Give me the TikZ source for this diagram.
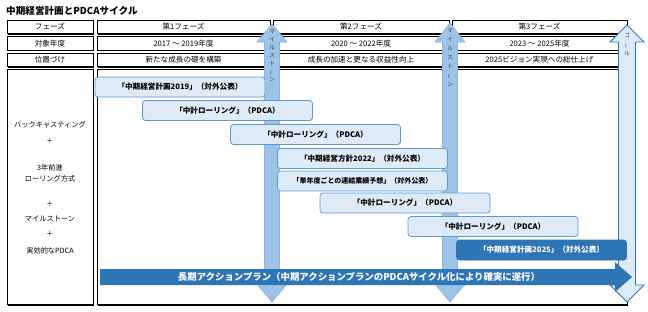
\documentclass[tikz,border=0pt]{standalone}
\usepackage{fontspec}
\usepackage{graphicx}
\setmainfont{Noto Sans CJK JP}
\usetikzlibrary{shadows}
\definecolor{msfill}{HTML}{9DC3E6}
\definecolor{msdraw}{HTML}{8AB3DD}
\definecolor{lightfill}{HTML}{DEEBF7}
\definecolor{boxdraw}{HTML}{5B9BD5}
\definecolor{darkblue}{HTML}{2E75B6}
\newcommand{\vbar}{\rotatebox[origin=c]{90}{ー}}
\begin{document}
\begin{tikzpicture}[x=1pt,y=-1pt,
  cell/.style={draw=black, line width=0.8pt, fill=white, inner sep=0pt,
    font=\fontsize{7.6}{9}\selectfont,
    drop shadow={shadow xshift=1.3pt, shadow yshift=-1.3pt, fill=black, opacity=1}},
  lefttxt/.style={font=\fontsize{7.2}{8}\selectfont, inner sep=0pt},
  rbox/.style={draw=boxdraw, fill=lightfill, rounded corners=3pt, line width=0.8pt,
    minimum width=170pt, minimum height=20pt, inner sep=0pt,
    font=\bfseries\fontsize{7.6}{8}\selectfont},
  dbox/.style={rbox, draw=darkblue, fill=darkblue, text=white},
  ms/.style={fill=msfill, draw=msdraw, line width=0.6pt},
  goal/.style={fill=lightfill, draw=darkblue, line width=0.8pt},
  vtext/.style={align=center, inner sep=0pt, text=black!80}
]
\useasboundingbox (0,0) rectangle (648,311);
\fill[white] (0,0) rectangle (648,311);

% title
\node[anchor=west, inner sep=0pt, font=\bfseries\fontsize{9.6}{11}\selectfont] (title) at (6,11) {中期経営計画とPDCAサイクル};

% table left column
\node[cell, minimum width=86pt, minimum height=13.5pt] (l1) at (50,26.75) {フェーズ};
\node[cell, minimum width=86pt, minimum height=13.5pt] (l2) at (50,43.25) {対象年度};
\node[cell, minimum width=86pt, minimum height=13.5pt] (l3) at (50,59.75) {位置づけ};
\node[cell, minimum width=86pt, minimum height=235pt] (l4) at (50,187) {};

% table right cells
\node[cell, minimum width=173pt, minimum height=13.5pt] (p1) at (183.5,26.75) {第1フェーズ};
\node[cell, minimum width=176pt, minimum height=13.5pt] (p2) at (361,26.75) {第2フェーズ};
\node[cell, minimum width=175pt, minimum height=13.5pt] (p3) at (539.5,26.75) {第3フェーズ};
\node[cell, minimum width=530pt, minimum height=13.5pt] (yr) at (362,43.25) {};
\node[cell, minimum width=530pt, minimum height=13.5pt] (pos) at (362,59.75) {};
\node[cell, minimum width=530pt, minimum height=235pt] (main) at (362,187) {};

\node[font=\fontsize{7.6}{9}\selectfont, inner sep=0pt] (y1) at (183.5,43.25) {2017 ～ 2019年度};
\node[font=\fontsize{7.6}{9}\selectfont, inner sep=0pt] (y2) at (361,43.25) {2020 ～ 2022年度};
\node[font=\fontsize{7.6}{9}\selectfont, inner sep=0pt] (y3) at (539.5,43.25) {2023 ～ 2025年度};
\node[font=\fontsize{7.6}{9}\selectfont, inner sep=0pt] (s1) at (183.5,59.75) {新たな成長の礎を構築};
\node[font=\fontsize{7.6}{9}\selectfont, inner sep=0pt] (s2) at (361,59.75) {成長の加速と更なる収益性向上};
\node[font=\fontsize{7.6}{9}\selectfont, inner sep=0pt] (s3) at (539.5,59.75) {2025ビジョン実現への総仕上げ};

% left column texts
\node[lefttxt] (t1) at (50,125) {バックキャスティング};
\node[lefttxt] (t2) at (50,141) {＋};
\node[lefttxt] (t3) at (50,167.5) {3年前進};
\node[lefttxt] (t4) at (50,178.5) {ローリング方式};
\node[lefttxt] (t5) at (50,204) {＋};
\node[lefttxt] (t6) at (50,219) {マイルストーン};
\node[lefttxt] (t7) at (50,234) {＋};
\node[lefttxt] (t8) at (50,251) {実効的なPDCA};

% milestone arrows
\draw[ms] (264.5,42) -- (257,42) -- (272,24) -- (287,42) -- (279.5,42) -- (279.5,284)
  -- (287,284) -- (272,302) -- (257,284) -- (264.5,284) -- cycle;
\node[vtext, font=\fontsize{5.5}{8}\selectfont, anchor=north] (ms1) at (272,30)
  {マ\\イ\\ル\\ス\\ト\\\vbar\\ン};
\draw[ms] (442.5,42) -- (435,42) -- (450,23) -- (465,42) -- (457.5,42) -- (457.5,284)
  -- (465,284) -- (450,302) -- (435,284) -- (442.5,284) -- cycle;
\node[vtext, font=\fontsize{5.5}{9}\selectfont, anchor=north] (ms2) at (450,29)
  {マ\\イ\\ル\\ス\\ト\\\vbar\\ン};
% goal arrow
\draw[goal] (618.5,42) -- (610,42) -- (627,25) -- (644,42) -- (635.5,42) -- (635.5,285)
  -- (644,285) -- (627,302) -- (610,285) -- (618.5,285) -- cycle;
\node[vtext, font=\fontsize{5.5}{9}\selectfont, anchor=north] (gl) at (627,33)
  {ゴ\\\vbar\\ル};

% plan boxes
\node[rbox] (b1) at (180,87) {「中期経営計画2019」（対外公表）};
\node[rbox] (b2) at (227.5,110.5) {「中計ローリング」（PDCA）};
\node[rbox] (b3) at (315.5,134.5) {「中計ローリング」（PDCA）};
\node[rbox] (b4) at (362.5,158.5) {「中期経営方針2022」（対外公表）};
\node[rbox, font=\bfseries\fontsize{7}{8}\selectfont] (b5) at (362.5,181) {「単年度ごとの連結業績予想」（対外公表）};
\node[rbox] (b6) at (405,203) {「中計ローリング」（PDCA）};
\node[rbox] (b7) at (493,226.5) {「中計ローリング」（PDCA）};
\node[dbox] (b8) at (541.5,250) {「中期経営計画2025」（対外公表）};

% long-term plan arrow
\fill[darkblue] (100,269) -- (615,269) -- (615,262) -- (632,277) -- (615,292) -- (615,285)
  -- (100,285) -- cycle;
\node[text=white, font=\bfseries\fontsize{9.4}{10}\selectfont, inner sep=0pt] (lt) at (359,277)
  {長期アクションプラン（中期アクションプランのPDCAサイクル化により確実に遂行）};
\end{tikzpicture}
\end{document}
